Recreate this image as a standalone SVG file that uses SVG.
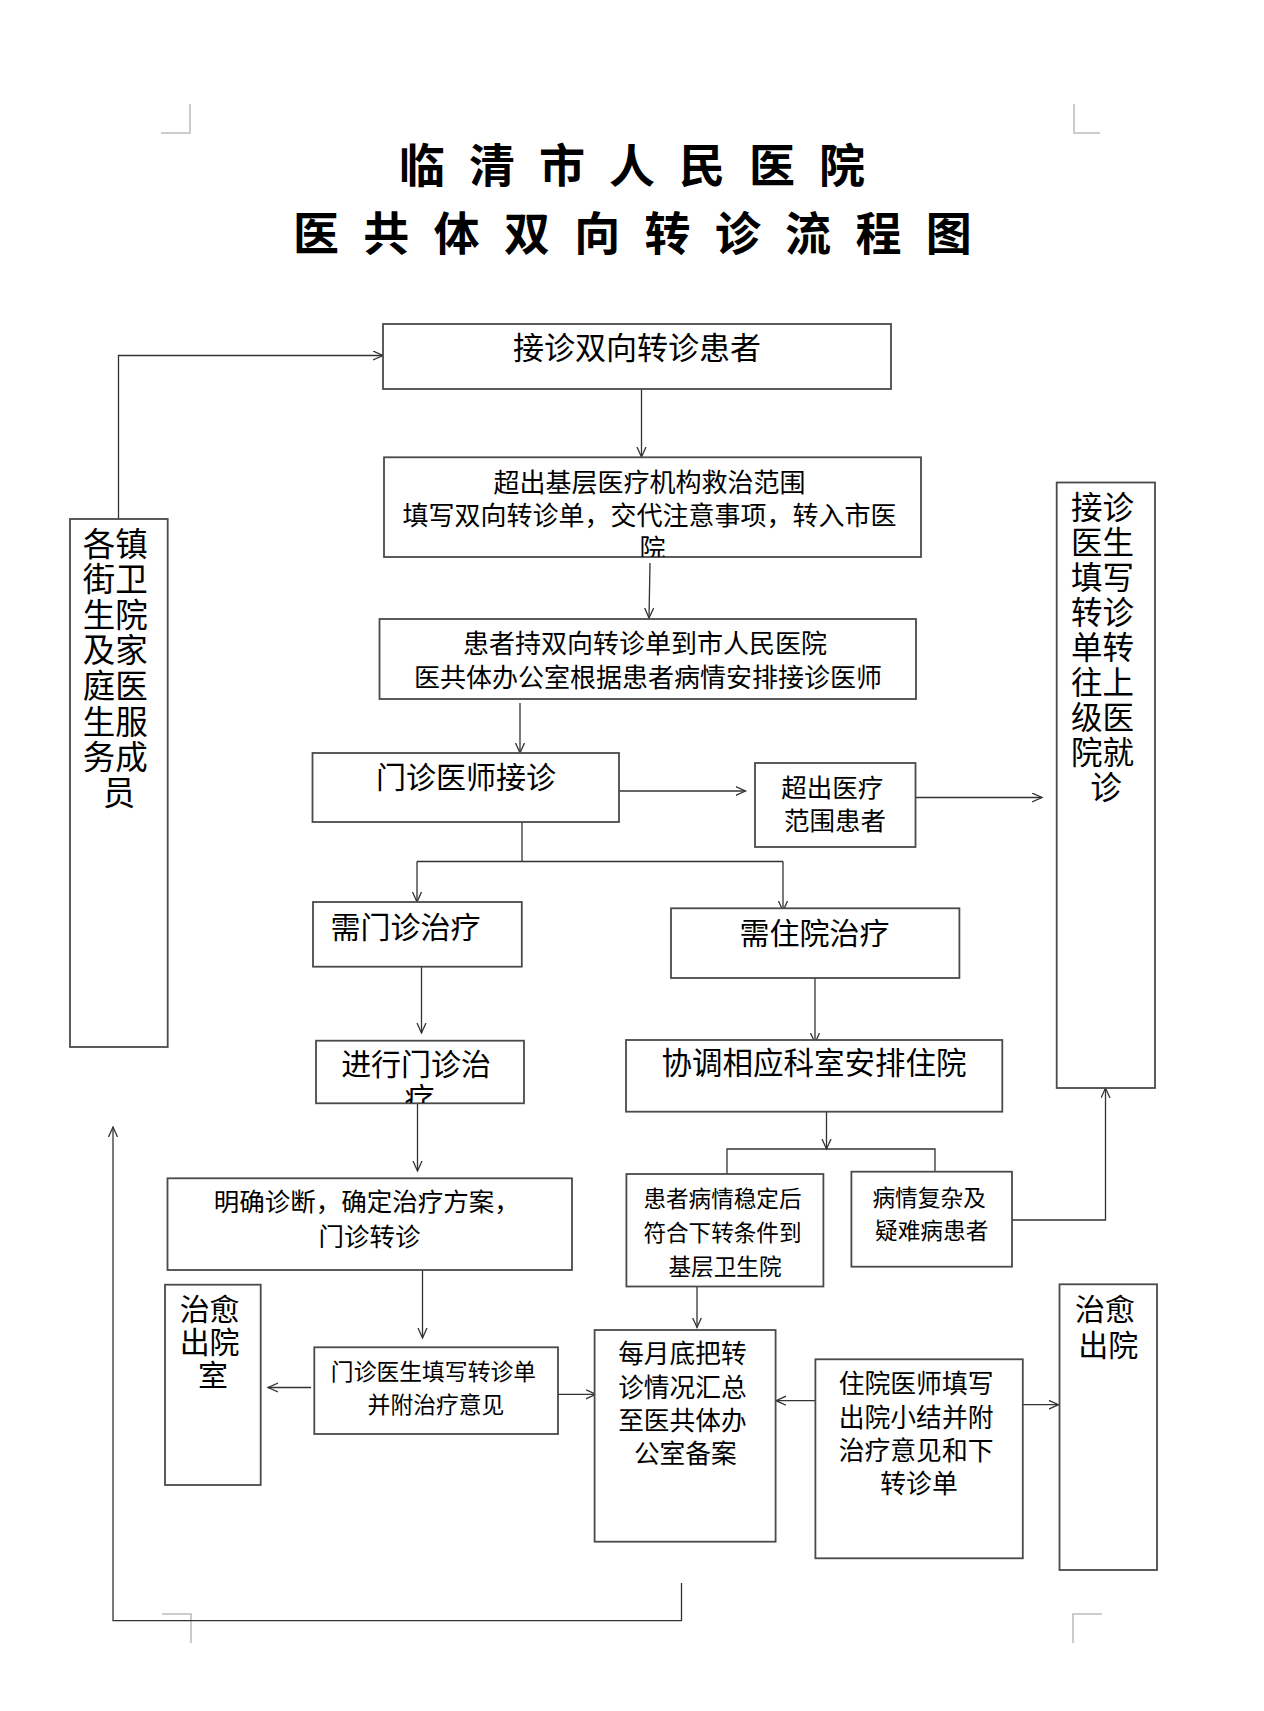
<svg xmlns="http://www.w3.org/2000/svg" width="1264" height="1711" viewBox="0 0 1264 1711">
<style>
  .box{fill:#fff;stroke:#4a4a4a;stroke-width:1.8}
  .t{font-family:"Noto Sans CJK SC","Noto Sans CJK TC",sans-serif;fill:#000;text-anchor:middle}
  .title{font-family:"Noto Sans CJK SC","Noto Sans CJK TC",sans-serif;font-weight:bold;font-size:46px;fill:#000}
  .c{fill:none;stroke:#333;stroke-width:1.3}
  .ca{fill:none;stroke:#333;stroke-width:1.3;marker-end:url(#arr)}
  .mark{fill:none;stroke:#bdbdbd;stroke-width:1.6}
</style>
<defs>
  <marker id="arr" markerUnits="userSpaceOnUse" markerWidth="12" markerHeight="12" refX="10" refY="5" orient="auto">
    <path d="M0,0.5 L10,5 L0,9.5" fill="none" stroke="#333" stroke-width="1.3"/>
  </marker>
  <clipPath id="clipB"><rect x="384" y="457" width="537" height="100"/></clipPath>
  <clipPath id="clipH"><rect x="316" y="1041" width="208" height="62"/></clipPath>
</defs>
<rect width="1264" height="1711" fill="#fff"/>

<g id="corner-marks">
  <path class="mark" d="M161,133 H190 V104"/>
  <path class="mark" d="M1074,104 V133 H1100"/>
  <path class="mark" d="M162,1614 H191 V1643"/>
  <path class="mark" d="M1102,1614 H1073 V1643"/>
</g>

<g id="title">
  <text class="title" y="181.5" x="399 469 539 609 679 749 819">临清市人民医院</text>
  <text class="title" y="250" x="293 363.3 433.6 503.9 574.2 644.5 714.8 785.1 855.4 925.7">医共体双向转诊流程图</text>
</g>

<g id="connectors">
  <path class="ca" d="M118.5,519 V355.5 H383"/>
  <path class="ca" d="M641.5,389 V457"/>
  <path class="ca" d="M650,563 L649,618"/>
  <path class="ca" d="M520,703 V753"/>
  <path class="ca" d="M619,791 H745.5"/>
  <path class="ca" d="M916,797.5 H1042"/>
  <path class="c" d="M522,822 V861.5"/>
  <path class="c" d="M417,861.5 H783"/>
  <path class="ca" d="M417,861.5 V902"/>
  <path class="ca" d="M783,861.5 V911"/>
  <path class="ca" d="M421.5,967 V1033"/>
  <path class="ca" d="M815,978 V1043"/>
  <path class="ca" d="M417.5,1103 V1171"/>
  <path class="ca" d="M826.5,1111.5 V1149"/>
  <path class="c" d="M727,1174 V1149 H935 V1172"/>
  <path class="ca" d="M1012,1220 H1105.5 V1088"/>
  <path class="ca" d="M422.5,1270 V1338"/>
  <path class="ca" d="M311,1387.5 H268"/>
  <path class="ca" d="M558,1394.3 H596"/>
  <path class="ca" d="M697,1286.5 V1327.5"/>
  <path class="ca" d="M816,1400.7 H776"/>
  <path class="ca" d="M1023,1404.7 H1058.5"/>
  <path class="ca" d="M681.5,1583 V1620.7 H113 V1127"/>
</g>

<g id="node-receive">
  <rect class="box" x="383" y="324" width="508" height="65"/>
  <text class="t" x="637" y="359" font-size="31">接诊双向转诊患者</text>
</g>

<g id="node-exceed-basic">
  <rect class="box" x="384" y="457.3" width="537" height="99.7"/>
  <text class="t" font-size="26" clip-path="url(#clipB)">
    <tspan x="652.5" y="492">超出基层医疗机构救治范围</tspan>
    <tspan x="652.5" y="525">填写双向转诊单，交代注意事项，转入市医</tspan>
    <tspan x="652.5" y="558">院</tspan>
  </text>
</g>

<g id="node-office">
  <rect class="box" x="379.5" y="619" width="536.5" height="80"/>
  <text class="t" font-size="26">
    <tspan x="648" y="653">患者持双向转诊单到市人民医院</tspan>
    <tspan x="648" y="687">医共体办公室根据患者病情安排接诊医师</tspan>
  </text>
</g>

<g id="node-outpatient-doctor">
  <rect class="box" x="312.5" y="753" width="306.5" height="69"/>
  <text class="t" x="466" y="788" font-size="30">门诊医师接诊</text>
</g>

<g id="node-exceed-scope">
  <rect class="box" x="755" y="763" width="160.5" height="84"/>
  <text class="t" font-size="25.5">
    <tspan x="835" y="797">超出医疗</tspan>
    <tspan x="835" y="830">范围患者</tspan>
  </text>
</g>

<g id="node-need-outpatient">
  <rect class="box" x="313" y="902" width="208.8" height="64.7"/>
  <text class="t" x="405.5" y="938" font-size="30">需门诊治疗</text>
</g>

<g id="node-need-inpatient">
  <rect class="box" x="671" y="908.3" width="288.4" height="69.7"/>
  <text class="t" x="814.5" y="944" font-size="30">需住院治疗</text>
</g>

<g id="node-do-outpatient">
  <rect class="box" x="316" y="1040.7" width="208" height="62.6"/>
  <text class="t" font-size="30" clip-path="url(#clipH)">
    <tspan x="419.5" y="1075">进行门诊治</tspan>
    <tspan x="419.5" y="1109">疗</tspan>
  </text>
</g>

<g id="node-arrange">
  <rect class="box" x="626" y="1040" width="376.3" height="71.7"/>
  <text class="t" x="814" y="1074" font-size="30.5">协调相应科室安排住院</text>
</g>

<g id="node-diagnosis">
  <rect class="box" x="167.5" y="1178.3" width="404.5" height="91.7"/>
  <text class="t" font-size="25.5">
    <tspan x="369.5" y="1211">明确诊断，确定治疗方案，</tspan>
    <tspan x="369.5" y="1246">门诊转诊</tspan>
  </text>
</g>

<g id="node-stable">
  <rect class="box" x="626.4" y="1174" width="197" height="112.5"/>
  <text class="t" font-size="22.6">
    <tspan x="725" y="1206.5">患者病情稳定后</tspan>
    <tspan x="725" y="1241">符合下转条件到</tspan>
    <tspan x="725" y="1275">基层卫生院</tspan>
  </text>
</g>

<g id="node-complex">
  <rect class="box" x="851.4" y="1171.7" width="160.6" height="95"/>
  <text class="t" font-size="22.7">
    <tspan x="931.7" y="1205.5">病情复杂及</tspan>
    <tspan x="931.7" y="1238.5">疑难病患者</tspan>
  </text>
</g>

<g id="node-cured-left">
  <rect class="box" x="165" y="1284.7" width="95.7" height="200.3"/>
  <text class="t" font-size="30">
    <tspan x="213" y="1319.5">治愈</tspan>
    <tspan x="213" y="1353">出院</tspan>
    <tspan x="213" y="1385.5">室</tspan>
  </text>
</g>

<g id="node-outpatient-form">
  <rect class="box" x="314.3" y="1347.3" width="243.7" height="86.7"/>
  <text class="t" font-size="22.8">
    <tspan x="436" y="1379.5">门诊医生填写转诊单</tspan>
    <tspan x="436" y="1413">并附治疗意见</tspan>
  </text>
</g>

<g id="node-monthly">
  <rect class="box" x="594.6" y="1330" width="181" height="211.7"/>
  <text class="t" font-size="25.7">
    <tspan x="685.3" y="1363">每月底把转</tspan>
    <tspan x="685.3" y="1397">诊情况汇总</tspan>
    <tspan x="685.3" y="1430">至医共体办</tspan>
    <tspan x="685.3" y="1463">公室备案</tspan>
  </text>
</g>

<g id="node-inpatient-form">
  <rect class="box" x="815.4" y="1359.3" width="207.4" height="199"/>
  <text class="t" font-size="25.8">
    <tspan x="919" y="1393">住院医师填写</tspan>
    <tspan x="919" y="1426.5">出院小结并附</tspan>
    <tspan x="919" y="1460">治疗意见和下</tspan>
    <tspan x="919" y="1493">转诊单</tspan>
  </text>
</g>

<g id="node-cured-right">
  <rect class="box" x="1059.5" y="1284.3" width="97.5" height="285.7"/>
  <text class="t" font-size="30">
    <tspan x="1108.3" y="1320">治愈</tspan>
    <tspan x="1108.3" y="1355.5">出院</tspan>
  </text>
</g>

<g id="node-upper">
  <rect class="box" x="1056.7" y="482.5" width="98.3" height="605.5"/>
  <text class="t" font-size="31.5">
    <tspan x="1106" y="519">接诊</tspan>
    <tspan x="1106" y="554">医生</tspan>
    <tspan x="1106" y="589">填写</tspan>
    <tspan x="1106" y="624">转诊</tspan>
    <tspan x="1106" y="659">单转</tspan>
    <tspan x="1106" y="694">往上</tspan>
    <tspan x="1106" y="729">级医</tspan>
    <tspan x="1106" y="764">院就</tspan>
    <tspan x="1106" y="799">诊</tspan>
  </text>
</g>

<g id="node-township">
  <rect class="box" x="70" y="519" width="97.7" height="528"/>
  <text class="t" font-size="32.5">
    <tspan x="119" y="555.5">各镇</tspan>
    <tspan x="119" y="591.1">街卫</tspan>
    <tspan x="119" y="626.7">生院</tspan>
    <tspan x="119" y="662.3">及家</tspan>
    <tspan x="119" y="697.9">庭医</tspan>
    <tspan x="119" y="733.5">生服</tspan>
    <tspan x="119" y="769.1">务成</tspan>
    <tspan x="119" y="804.7">员</tspan>
  </text>
</g>
</svg>
